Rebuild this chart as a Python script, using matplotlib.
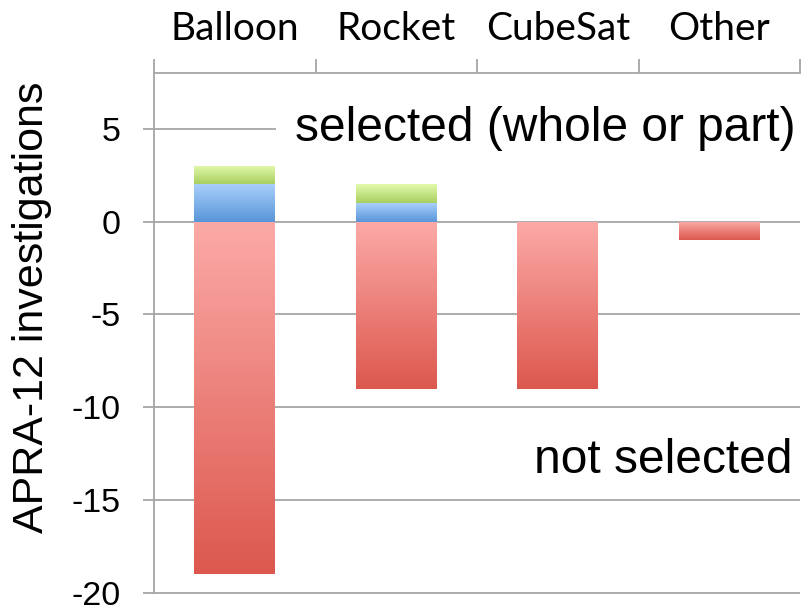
import numpy as np
import matplotlib
matplotlib.use("Agg")
import matplotlib.pyplot as plt
from matplotlib.colors import LinearSegmentedColormap

# data
categories = ["Balloon", "Rocket", "CubeSat", "Other"]
not_selected = [-19, -9, -9, -1]
selected_whole = [2, 1, 0, 0]
selected_part = [1, 1, 0, 0]
yticks = [5, 0, -5, -10, -15, -20]

plt.rcParams['font.family'] = ['Liberation Sans', 'DejaVu Sans']

fig = plt.figure(figsize=(8.01, 6.12), dpi=100)
ax = fig.add_axes([154/801, 1 - 600/612, (800 - 154)/801, (600 - 73)/612])

x = np.arange(len(categories))
gray = '#a6a6a6'

red = ax.bar(x, not_selected, width=0.5, color='none', zorder=2)
blue = ax.bar(x, selected_whole, width=0.5, color='none', zorder=2)
green = ax.bar(x, selected_part, width=0.5, bottom=selected_whole, color='none', zorder=2)

# vertical gradient fill: light on top, dark at bottom
grad = np.linspace(0, 1, 256).reshape(-1, 1)
def fill_gradient(bars, top_col, bot_col):
    cmap = LinearSegmentedColormap.from_list('g', [top_col, bot_col])
    for p in bars:
        h = p.get_height()
        if h == 0:
            continue
        x0 = p.get_x()
        y0 = p.get_y()
        y1 = y0 + h
        im = ax.imshow(grad, cmap=cmap, aspect='auto', zorder=2,
                       extent=(x0, x0 + p.get_width(), min(y0, y1), max(y0, y1)))
        im.set_clip_path(p)

fill_gradient(red, '#fcaaa7', '#dc584e')
fill_gradient(blue, '#a9cffb', '#5895d8')
fill_gradient(green, '#e3faad', '#a8cf5f')

ax.set_xlim(-0.5, 3.5)
ax.set_ylim(-20.38, 8)

# gridlines drawn by hand so the -20 line is not lost at the edge
ax.hlines(yticks, -0.5, 3.5, color=gray, linewidth=1.3, zorder=1, clip_on=False)

# axes styling
for s in ['right', 'bottom']:
    ax.spines[s].set_visible(False)
for s in ['left', 'top']:
    ax.spines[s].set_color(gray)
    ax.spines[s].set_linewidth(1.3)
ax.spines['left'].set_bounds(-20, 8)

ax.set_yticks(yticks)
ax.set_yticklabels([str(v) for v in yticks])
ax.tick_params(axis='y', direction='out', length=8, width=1.3, color=gray,
               labelsize=24.5, pad=16)

ax.xaxis.tick_top()
ax.set_xticks(x)
ax.set_xticklabels(categories, fontsize=28, family='Lato')
ax.set_xticks(np.arange(-0.5, 4, 1), minor=True)
ax.tick_params(axis='x', which='major', length=0, pad=19)
ax.tick_params(axis='x', which='minor', direction='out', length=10, width=1.3, color=gray)

ax.set_ylabel("APRA-12 investigations", fontsize=31)
ax.yaxis.set_label_coords(-0.158, 0.555)

ax.text(0.993, 5, "selected (whole or part)", transform=ax.get_yaxis_transform(),
        ha='right', va='center', fontsize=34.5, zorder=3,
        bbox=dict(boxstyle='square,pad=0.4', facecolor='white', edgecolor='none'))
ax.text(0.988, -12.85, "not selected", transform=ax.get_yaxis_transform(),
        ha='right', va='center', fontsize=34.5, zorder=3)

fig.savefig("out.png", dpi=100)
